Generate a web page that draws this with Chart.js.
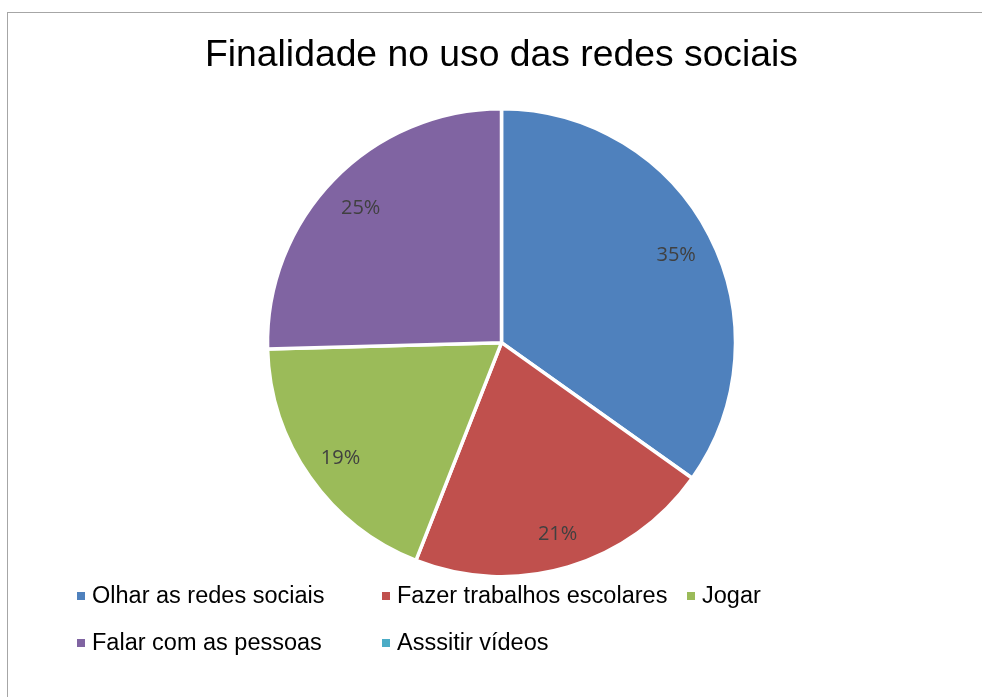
<!DOCTYPE html>
<html>
<head>
<meta charset="utf-8">
<script src="https://cdn.jsdelivr.net/npm/chart.js@4"></script>
<style>
  body { margin: 0; background: #fff; }
  #frame { position: absolute; left: 7px; top: 12px; width: 1000px; height: 700px;
           border-left: 1px solid #a6a6a6; border-top: 1px solid #a6a6a6; }
  #grafico { position: absolute; left: 0; top: 0; }
</style>
</head>
<body>
<div id="frame"></div>
<canvas id="grafico" width="982" height="697"></canvas>
<script>
// Finalidade no uso das redes sociais
const categorias = ['Olhar as redes sociais', 'Fazer trabalhos escolares', 'Jogar', 'Falar com as pessoas', 'Asssitir vídeos'];
const valores = [34.8, 21.1, 18.6, 25.4, 0];
const cores = ['#4F81BD', '#C0504D', '#9BBB59', '#8064A2', '#4BACC6'];

// rótulos de percentagem dentro das fatias
const rotulosPlugin = {
    id: 'rotulos',
    afterDatasetsDraw(chart) {
        const ctx = chart.ctx;
        const meta = chart.getDatasetMeta(0);
        const dados = chart.data.datasets[0].data;
        const total = dados.reduce((a, b) => a + b, 0);
        ctx.save();
        ctx.font = '20px "Open Sans"';
        ctx.fillStyle = '#404040';
        ctx.textAlign = 'center';
        ctx.textBaseline = 'middle';
        meta.data.forEach((arc, i) => {
            if (!dados[i]) return;
            const p = arc.getProps(['x', 'y', 'startAngle', 'endAngle', 'outerRadius'], true);
            const meio = (p.startAngle + p.endAngle) / 2;
            const r = p.outerRadius * 0.84;
            const pct = Math.round(dados[i] / total * 100);
            ctx.fillText(pct + '%', p.x + Math.cos(meio) * r, p.y + Math.sin(meio) * r + 3);
        });
        ctx.restore();
    }
};

// legenda em grelha, como no Excel
const legendaPlugin = {
    id: 'legendaGrelha',
    afterDraw(chart) {
        const ctx = chart.ctx;
        const ds = chart.data.datasets[0];
        const esquerda = 77, larguraColuna = 305, topo = 596, alturaLinha = 47, colunas = 3;
        ctx.save();
        ctx.font = '23.5px "Liberation Sans", Arial, sans-serif';
        ctx.textBaseline = 'middle';
        ctx.textAlign = 'left';
        chart.data.labels.forEach((label, i) => {
            const x = esquerda + (i % colunas) * larguraColuna;
            const y = topo + Math.floor(i / colunas) * alturaLinha;
            ctx.fillStyle = ds.backgroundColor[i];
            ctx.fillRect(x, y - 4, 8, 8);
            ctx.fillStyle = '#000';
            ctx.fillText(label, x + 15, y + 1);
        });
        ctx.restore();
    }
};

const ctx = document.getElementById('grafico').getContext('2d');
const grafico = new Chart(ctx, {
    type: 'pie',
    data: {
        labels: categorias,
        datasets: [{
            data: valores,
            backgroundColor: cores,
            borderColor: '#fff',
            borderWidth: 3.5,
            radius: 234
        }]
    },
    options: {
        responsive: false,
        animation: false,
        layout: { padding: { left: 21, right: 0, top: 0, bottom: 121 } },
        plugins: {
            legend: { display: false },
            tooltip: { enabled: false },
            title: {
                display: true,
                text: 'Finalidade no uso das redes sociais',
                color: '#000',
                font: { family: '"Liberation Sans", Arial, sans-serif', size: 37.3, weight: 'normal' },
                padding: { top: 33, bottom: 31.6 }
            }
        }
    },
    plugins: [rotulosPlugin, legendaPlugin]
});
</script>
</body>
</html>
